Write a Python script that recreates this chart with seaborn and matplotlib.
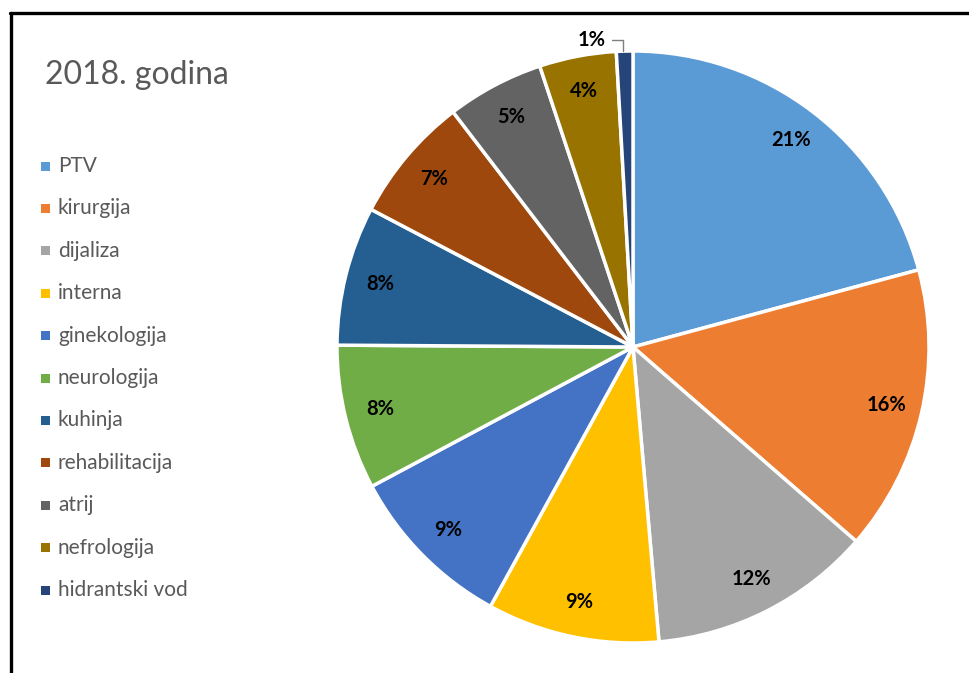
import matplotlib
matplotlib.use("Agg")
import matplotlib.pyplot as plt
from matplotlib.lines import Line2D
from matplotlib.patches import Rectangle
import seaborn as sns

# data (share of total, %)
categories = ['PTV', 'kirurgija', 'dijaliza', 'interna', 'ginekologija', 'neurologija',
              'kuhinja', 'rehabilitacija', 'atrij', 'nefrologija', 'hidrantski vod']
shares = [20.8, 15.6, 12.2, 9.4, 9.2, 7.9, 7.6, 6.9, 5.3, 4.2, 0.9]
colors = ['#5B9BD5', '#ED7D31', '#A5A5A5', '#FFC000', '#4472C4', '#70AD47',
          '#255E91', '#9E480E', '#636363', '#997300', '#264478']
title = '2018. godina'

sns.set_theme(style='white')
plt.rcParams['font.family'] = ['Lato', 'DejaVu Sans']
palette = sns.color_palette(colors)

W, H = 970, 673
fig = plt.figure(figsize=(W / 100, H / 100), dpi=100)
fig.patch.set_facecolor('white')

# pie axes: centre (633, 347), radius 296 px
cx, cy, R = 633, 347, 296
ax = fig.add_axes([(cx - R) / W, (H - cy - R) / H, 2 * R / W, 2 * R / H])
wedges, texts, autotexts = ax.pie(
    shares, colors=palette, startangle=90, counterclock=False,
    autopct=lambda p: f'{p:.0f}%', pctdistance=0.88,
    wedgeprops=dict(edgecolor='white', linewidth=2.5),
    textprops=dict(fontsize=14.5, fontweight='bold', color='black'))
ax.set_xlim(-1, 1)
ax.set_ylim(-1, 1)
ax.set_aspect('equal')
ax.axis('off')

# small last slice: label outside with a leader line
small = autotexts[-1]
small.set_visible(False)
ax.annotate(small.get_text(), xy=(-0.035, 1.0), xytext=(-0.138, 1.037),
            ha='center', va='center', fontsize=14.5, fontweight='bold', color='black',
            arrowprops=dict(arrowstyle='-', color='#7f7f7f', lw=1,
                            shrinkA=2, shrinkB=0,
                            connectionstyle='angle,angleA=0,angleB=90,rad=0'))

# title
fig.text(45 / W, 1 - 75 / H, title, fontsize=23, color='#595959', va='center', ha='left')

# legend, drawn entry by entry
y0, step = 166, 42.4
for i, (name, col) in enumerate(zip(categories, palette)):
    y = y0 + i * step
    fig.add_artist(Rectangle((41 / W, 1 - (y + 4.5) / H), 9 / W, 9 / H,
                             transform=fig.transFigure, color=col, lw=0))
    fig.text(58 / W, 1 - y / H, name, fontsize=15, color='#595959',
             va='center', ha='left')

# frame lines at top and left
fig.add_artist(Line2D([10 / W, 1], [1 - 13 / H, 1 - 13 / H], color='black', lw=2.4,
                      transform=fig.transFigure))
fig.add_artist(Line2D([11 / W, 11 / W], [0, 1 - 13 / H], color='black', lw=2.4,
                      transform=fig.transFigure))

fig.savefig('out.png', dpi=100, facecolor='white')
